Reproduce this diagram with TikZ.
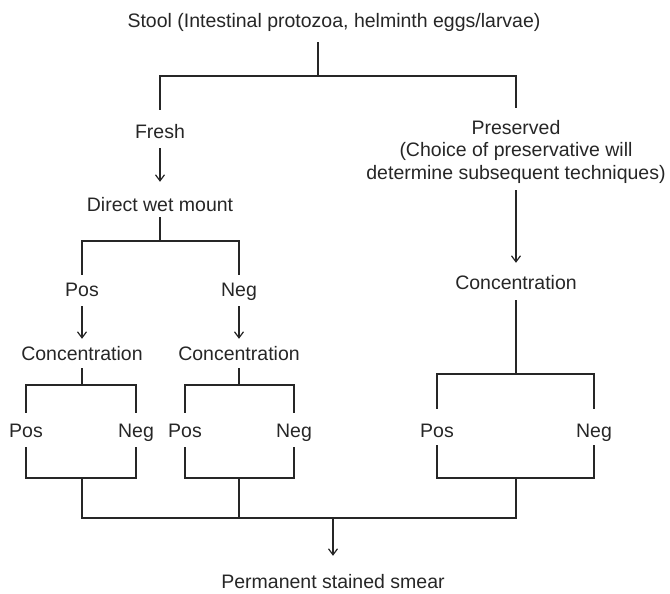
\documentclass[tikz,border=0pt]{standalone}
\usepackage{fontspec}
\setmainfont{Liberation Sans}
\usetikzlibrary{arrows.meta}
\begin{document}
\begin{tikzpicture}[x=1pt,y=1pt,
  txt/.style={inner sep=0pt, font=\fontsize{19.5}{22.5}\selectfont, text=black!85},
  lbl/.style={txt, text height=14pt, text depth=0pt},
  ln/.style={line width=1.2pt, draw=black!85},
  arr/.style={ln, -{Straight Barb[length=6pt,width=9pt]}}]
\useasboundingbox (0,0) rectangle (670,-594);
% text nodes
\node[lbl] (stool) at (334,-21) {Stool (Intestinal protozoa, helminth eggs/larvae)};
\node[lbl] (fresh) at (160,-132) {Fresh};
\node[txt, align=center] (pres) at (516,-151.5) {Preserved\\(Choice of preservative will\\determine subsequent techniques)};
\node[lbl] (dwm) at (160,-204) {Direct wet mount};
\node[lbl] (pos1) at (82,-289) {Pos};
\node[lbl] (neg1) at (239,-289) {Neg};
\node[lbl] (conc1) at (82,-353) {Concentration};
\node[lbl] (conc2) at (239,-353) {Concentration};
\node[lbl] (conc3) at (516,-282) {Concentration};
\node[lbl] (p11) at (26,-430) {Pos};
\node[lbl] (n11) at (136,-430) {Neg};
\node[lbl] (p21) at (185,-430) {Pos};
\node[lbl] (n21) at (294,-430) {Neg};
\node[lbl] (p31) at (437,-430) {Pos};
\node[lbl] (n31) at (594,-430) {Neg};
\node[lbl] (perm) at (333,-581) {Permanent stained smear};
% junctions
\coordinate (j0) at (318,-76);
\coordinate (j1) at (160,-241);
\coordinate (j2) at (82,-385);
\coordinate (j3) at (239,-385);
\coordinate (j4) at (516,-374);
\coordinate (k1) at (82,-478);
\coordinate (k2) at (239,-478);
\coordinate (k3) at (516,-478);
\coordinate (m) at (333,-518);
% connectors
\draw[ln, shorten <=14pt] (stool.south -| j0) -- (j0);
\draw[ln] ([yshift=15pt]fresh.north) |- (j0) -| ([yshift=12pt]pres.north);
\draw[arr, shorten <=9pt, shorten >=15pt] (fresh.south) -- (dwm.north);
\draw[arr, shorten <=7pt, shorten >=12pt] (pres.south) -- (conc3.north);
\draw[ln, shorten <=6pt] (dwm.south) -- (j1);
\draw[ln] ([yshift=7pt]pos1.north) |- (j1) -| ([yshift=7pt]neg1.north);
\draw[arr, shorten <=10pt, shorten >=7pt] (pos1.south) -- (conc1.north);
\draw[arr, shorten <=10pt, shorten >=7pt] (neg1.south) -- (conc2.north);
\draw[ln, shorten <=8pt] (conc1.south) -- (j2);
\draw[ln] ([yshift=10pt]p11.north) |- (j2) -| ([yshift=10pt]n11.north);
\draw[ln] ([yshift=-10pt]p11.south) |- (k1) -| ([yshift=-10pt]n11.south);
\draw[ln, shorten <=8pt] (conc2.south) -- (j3);
\draw[ln] ([yshift=10pt]p21.north) |- (j3) -| ([yshift=10pt]n21.north);
\draw[ln] ([yshift=-10pt]p21.south) |- (k2) -| ([yshift=-10pt]n21.south);
\draw[ln, shorten <=11pt] (conc3.south) -- (j4);
\draw[ln] ([yshift=14pt]p31.north) |- (j4) -| ([yshift=14pt]n31.north);
\draw[ln] ([yshift=-8pt]p31.south) |- (k3) -| ([yshift=-8pt]n31.south);
\draw[ln] (k1) |- (m) -| (k3);
\draw[ln] (k2) -- (k2 |- m);
\draw[arr, shorten >=18pt] (m) -- (perm.north);
\end{tikzpicture}
\end{document}
